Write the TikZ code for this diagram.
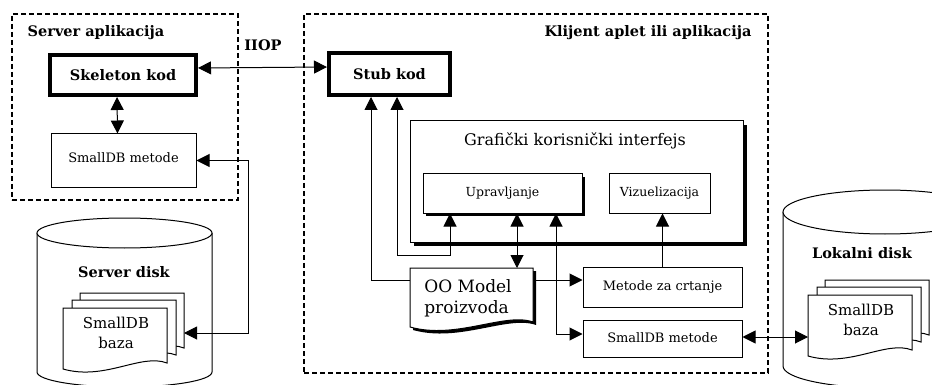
\documentclass[tikz,border=0pt]{standalone}
\usepackage{fontspec}
\setmainfont{DejaVu Serif}
\usetikzlibrary{arrows.meta,shadows}

\begin{document}
\begin{tikzpicture}[x=1pt,y=-1pt,
  >={Triangle[length=13pt,width=13pt]},
  frame/.style={draw, line width=1.4pt, dash pattern=on 5pt off 3pt, inner sep=0pt},
  box/.style={draw, line width=1pt, fill=white, inner sep=0pt, align=center},
  thickbox/.style={box, line width=4pt, font=\fontsize{14.5}{17}\selectfont\bfseries},
  plainbox/.style={box, font=\fontsize{13}{16}\selectfont},
  guibox/.style={box, drop shadow={shadow xshift=4pt, shadow yshift=-4pt, fill=black, opacity=1}},
  subbox/.style={box, font=\fontsize{12.5}{15}\selectfont},
  title/.style={inner sep=0pt, font=\fontsize{14.5}{17}\selectfont\bfseries},
  dbtext/.style={inner sep=0pt, align=center, font=\fontsize{15}{20}\selectfont},
  link/.style={line width=1pt},
  sheet/.pic={\draw[fill=white, line width=1pt] (0,0) -- (104,0) -- (104,55)
     .. controls (78,45) and (42,73) .. (0,61) -- cycle;}
]
\clip (0,0) rectangle (932,385);

% dashed frames of the two applications
\node[frame, minimum width=226pt, minimum height=186pt] (srvframe) at (125,107) {};
\node[frame, minimum width=464pt, minimum height=359pt] (cliframe) at (536,193.5) {};
\node[title] (srvtitle) at (96,33) {Server aplikacija};
\node[title] (clititle) at (648,33) {Klijent aplet ili aplikacija};
\node[title] (iiop) at (263,45) {IIOP};

% server disk cylinder
\filldraw[fill=white, line width=1pt] (37,233) -- (37,372)
  arc[start angle=180, end angle=360, x radius=87.5pt, y radius=15pt] -- (212,233);
\draw[fill=white, line width=1pt] (124.5,233) ellipse[x radius=87.5pt, y radius=15pt];
\node[title] (srvdisk) at (124,272) {Server disk};

% local disk cylinder
\filldraw[fill=white, line width=1pt] (783,212) -- (783,366)
  arc[start angle=180, end angle=360, x radius=102pt, y radius=22pt] -- (987,212);
\draw[fill=white, line width=1pt] (885,212) ellipse[x radius=102pt, y radius=22pt];
\node[title] (lokdisk) at (862,253) {Lokalni disk};

% stacks of database sheets
\pic at (80,293) {sheet};
\pic at (72,300) {sheet};
\pic at (63,308) {sheet};
\node[dbtext] (srvdbtxt) at (116,333) {SmallDB\\baza};
\coordinate (srvdb) at (184,333);

\pic at (825,280) {sheet};
\pic at (817,287) {sheet};
\pic at (808,295) {sheet};
\node[dbtext] (lokdbtxt) at (861,320) {SmallDB\\baza};
\coordinate (lokdb) at (808,337);

% server side boxes
\node[thickbox, minimum width=146pt, minimum height=40pt] (skel) at (123,75) {Skeleton kod};
\node[plainbox, minimum width=145pt, minimum height=53pt] (sdbm1) at (123.5,160.5) {\raisebox{6pt}{SmallDB metode}};

% client side boxes
\node[thickbox, minimum width=121pt, minimum height=42pt] (stub) at (389.5,74) {Stub kod};
\node[guibox, minimum width=333pt, minimum height=121pt] (gui) at (576.5,181.5) {};
\node[inner sep=0pt, font=\fontsize{16}{19}\selectfont] (guititle) at (575,141) {Grafički korisnički interfejs};
\node[subbox, minimum width=159pt, minimum height=39pt,
      drop shadow={shadow xshift=3pt, shadow yshift=-3pt, fill=black, opacity=1}] (upr) at (502.5,193.5) {Upravljanje};
\node[subbox, minimum width=101pt, minimum height=39pt] (viz) at (659.5,193.5) {Vizuelizacija};
\node[plainbox, minimum width=159pt, minimum height=40pt] (met) at (662.5,287) {Metode za crtanje};
\node[plainbox, minimum width=159pt, minimum height=37pt] (sdbm2) at (662.5,339) {\raisebox{2pt}{SmallDB metode}};

% product model document with its shadow
\fill[black] (413,271) -- (536,271) -- (536,325) .. controls (508,315) and (459,343) .. (413,330) -- cycle;
\draw[fill=white, line width=1pt] (410,268) -- (533,268) -- (533,322) .. controls (505,312) and (456,340) .. (410,327) -- cycle;
\node[inner sep=0pt, align=left, font=\fontsize{17}{21}\selectfont] (oo) at (468,298) {OO Model\\proizvoda};
\coordinate (oow) at (410,280);
\coordinate (ooe) at (536,280);
\coordinate (oon) at (517,268);

% connectors
\draw[link,<->] ([yshift=7pt]skel.east) -- ([yshift=7pt]stub.west);
\draw[link,<->] ([xshift=-6pt]skel.south) -- ([xshift=-6pt]sdbm1.north);
\draw[link,<->] (sdbm1.east) -- ++(52,0) |- (srvdb);
\draw[link,->] (oow) -| ([xshift=-18.5pt]stub.south);
\draw[link,<->] ([xshift=7.5pt]stub.south) -- ++(0,158) -| ([xshift=-52.5pt]upr.south);
\draw[link,<->] ([xshift=14.5pt]upr.south) -- (oon);
\draw[link,<->] ([xshift=53.5pt]upr.south) |- ([yshift=5pt]sdbm2.west);
\draw[link,->] (ooe) -- (ooe -| met.west);
\draw[link,->] (met.north) -- (met.north |- viz.south);
\draw[link,<->] ([yshift=2pt]sdbm2.east) -- (lokdb);
\end{tikzpicture}
\end{document}
